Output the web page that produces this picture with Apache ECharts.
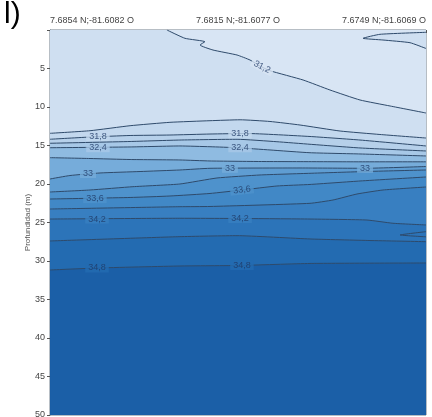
<!DOCTYPE html>
<html>
<head>
<meta charset="utf-8">
<script src="https://cdn.jsdelivr.net/npm/echarts@6/dist/echarts.min.js"></script>
<style>
  html, body { margin: 0; padding: 0; background: #fff; }
  #chart { width: 432px; height: 417px; }
</style>
</head>
<body>
<div id="chart"></div>
<script>
// estaciones (eje superior) y niveles de salinidad
const stations = ["7.6854 N;-81.6082 O", "7.6815 N;-81.6077 O", "7.6749 N;-81.6069 O"];
const levels = [31.2, 31.5, 31.8, 32.1, 32.4, 32.7, 33.0, 33.3, 33.6, 33.9, 34.2, 34.5, 34.8];
const depthTicks = [0, 5, 10, 15, 20, 25, 30, 35, 40, 45, 50];

// isolineas: [posicion entre estaciones (0-2), profundidad (m)]
const c312 = [[0.622, 0], [0.718, 1.08], [0.824, 1.52], [0.798, 1.95], [0.867, 2.6], [0.995, 3.25], [1.064, 3.9], [1.117, 4.68], [1.17, 5.29], [1.346, 6.49], [1.489, 7.79], [1.649, 9.09], [1.809, 9.87], [2, 10.78]];
const c312b = [[2, 0.3], [1.755, 0.56], [1.665, 1.08], [1.771, 1.3], [1.915, 1.65], [2, 2.4]];
const c315 = [[0, 13.42], [0.213, 13.08], [0.426, 12.43], [0.638, 11.99], [0.851, 11.78], [1.011, 11.66], [1.17, 11.88], [1.33, 12.34], [1.543, 13.12], [1.755, 13.57], [2, 14.03]];
const c318 = [[0, 14.19], [0.213, 13.9], [0.426, 13.7], [0.638, 13.64], [0.851, 13.51], [1.048, 13.44], [1.383, 13.83], [1.649, 14.29], [2, 15.06]];
const c321 = [[0, 14.71], [0.426, 14.48], [0.691, 14.29], [0.995, 14.19], [1.207, 14.51], [1.383, 14.84], [1.649, 15.32], [2, 15.71]];
const c324 = [[0, 15.29], [0.426, 15.19], [0.691, 15.06], [0.851, 15.16], [0.995, 15.29], [1.17, 15.58], [1.383, 15.94], [1.649, 16.1], [2, 16.36]];
const c327 = [[0, 16.58], [0.213, 16.69], [0.426, 16.82], [0.691, 16.88], [0.851, 17.01], [1.117, 17.08], [1.383, 17.1], [1.649, 17.12], [2, 17.12]];
const c330 = [[0, 19.35], [0.106, 18.9], [0.266, 18.57], [0.479, 18.38], [0.691, 18.18], [0.851, 17.96], [1.33, 17.92], [1.676, 17.96], [2, 17.73]];
const c333 = [[0, 21.04], [0.213, 20.78], [0.441, 20.35], [0.691, 20.0], [0.888, 19.22], [1.117, 18.83], [1.383, 18.61], [1.676, 18.38], [2, 18.18]];
const c336 = [[0, 21.95], [0.426, 21.75], [0.638, 21.56], [0.851, 21.23], [1.021, 20.78], [1.207, 20.26], [1.383, 20.06], [1.649, 19.61], [2, 19.09]];
const c339 = [[0, 23.25], [0.691, 22.95], [0.851, 22.92], [1.383, 22.51], [1.505, 22.08], [1.633, 21.3], [1.771, 20.78], [2, 20.39]];
const c342 = [[0, 24.55], [0.691, 24.45], [1.011, 24.48], [1.383, 24.55], [1.686, 24.68], [1.824, 25.1], [2, 25.32]];
const c345 = [[0, 27.4], [0.691, 26.84], [0.995, 26.71], [1.383, 27.14], [1.702, 27.34], [2, 27.49]];
const c345b = [[2, 26.19], [1.862, 26.62], [2, 26.86]];
const c348 = [[0, 31.17], [0.25, 30.91], [0.691, 30.65], [1.011, 30.58], [1.383, 30.32], [2, 30.26]];

// etiquetas de las isolineas: [x, profundidad, texto, giro]
const contourLabels = [
  [1.128, 4.81, "31,2", -27],
  [0.255, 13.83, "31,8", 0], [1.011, 13.48, "31,8", 0],
  [0.255, 15.29, "32,4", 0], [1.011, 15.3, "32,4", 0],
  [0.202, 18.64, "33", 0], [0.957, 17.96, "33", 0], [1.676, 17.96, "33", 0],
  [0.239, 21.91, "33,6", 0], [1.021, 20.78, "33,6", 6],
  [0.25, 24.55, "34,2", 0], [1.011, 24.48, "34,2", 0],
  [0.25, 30.91, "34,8", 0], [1.021, 30.58, "34,8", 0]
];

// colores de las bandas, de la mas salina a la menos
const deepColor = "#1b5fa7";
const bandColors = {
  "34.8": "#236bb1", "34.5": "#2c74b9", "34.2": "#387fc1", "33.9": "#4188c6",
  "33.6": "#4e92cc", "33.3": "#5f9dd2", "33.0": "#76acda", "32.7": "#8fbbe1",
  "32.4": "#a7c8e7", "32.1": "#b6d0ea", "31.8": "#c3d8ee", "31.5": "#cfdff1",
  "31.2": "#d8e5f4"
};
const lineColor = "#2e4a6b";

const mainLines = [c348, c345, c342, c339, c336, c333, c330, c327, c324, c321, c318, c315];
const mainLevels = [34.8, 34.5, 34.2, 33.9, 33.6, 33.3, 33.0, 32.7, 32.4, 32.1, 31.8, 31.5];

// poligonos (pintados de abajo hacia arriba)
const polys = [];
polys.push({ pts: [[0, 0], [2, 0], [2, 50], [0, 50]], color: deepColor });
mainLines.forEach((ln, i) => {
  polys.push({ pts: ln.concat([[2, 0], [0, 0]]), color: bandColors[mainLevels[i].toFixed(1)] });
});
polys.push({ pts: c312.concat([[2, 0]]), color: bandColors["31.2"] });
polys.push({ pts: c312b, color: bandColors["31.5"] });

const allLines = [c312, c312b, c315, c318, c321, c324, c327, c330, c333, c336, c339, c342, c345, c345b, c348];

function bgFor(d) {
  // color de fondo para la etiqueta segun la profundidad
  if (d < 10) return bandColors["31.2"];
  if (d < 14) return bandColors["31.8"];
  if (d < 16) return bandColors["32.4"];
  if (d < 19.5) return bandColors["33.0"];
  if (d < 23) return bandColors["33.6"];
  if (d < 26) return bandColors["34.2"];
  return bandColors["34.8"];
}

const myChart = echarts.init(document.getElementById("chart"));

const option = {
  animation: false,
  grid: {
    left: 50, right: 6, top: 30, bottom: 2, outerBoundsMode: "none", containLabel: false,
    show: true, borderColor: "#6f7c8a", borderWidth: 1, backgroundColor: "transparent"
  },
  graphic: [{
    type: "text", left: 4, top: 0,
    style: { text: "l)", fontSize: 30, fontFamily: "Liberation Sans", fill: "#000" }
  }],
  xAxis: {
    type: "value", position: "top", min: 0, max: 2, interval: 1,
    axisLine: { show: true, lineStyle: { color: "#6f7c8a" } },
    axisTick: { show: true, inside: true, length: 3, lineStyle: { color: "#555" } },
    splitLine: { show: false },
    axisLabel: {
      formatter: v => stations[Math.round(v)],
      fontSize: 9, color: "#444", fontFamily: "Liberation Sans", margin: 5,
      alignMinLabel: "left", alignMaxLabel: "right"
    }
  },
  yAxis: {
    type: "value", inverse: true, min: 0, max: 50, interval: 5,
    name: "Profundidad (m)", nameLocation: "middle", nameGap: 18, nameMoveOverlap: false,
    nameTextStyle: { fontSize: 8, color: "#555", fontFamily: "Liberation Sans" },
    axisLine: { show: true, lineStyle: { color: "#6f7c8a" } },
    axisTick: { show: true, length: 3, lineStyle: { color: "#555" } },
    splitLine: { show: false },
    axisLabel: {
      formatter: v => (depthTicks.indexOf(v) > 0 ? String(v) : ""),
      fontSize: 9, color: "#444", fontFamily: "Liberation Sans", margin: 5
    }
  },
  series: [
    {
      type: "custom",
      coordinateSystem: "cartesian2d",
      clip: true,
      silent: true,
      data: polys.map((p, i) => [0, 0, i]),
      renderItem: function (params, api) {
        const p = polys[params.dataIndex];
        return {
          type: "polygon",
          z2: params.dataIndex,
          shape: { points: p.pts.map(q => api.coord(q)) },
          style: { fill: p.color, stroke: p.color, lineWidth: 0.5 }
        };
      },
      z: 1
    }
  ].concat(allLines.map(ln => ({
    type: "line",
    data: ln,
    showSymbol: false,
    silent: true,
    smooth: 0.15,
    clip: true,
    lineStyle: { color: lineColor, width: 1 },
    z: 2
  }))).concat([{
    type: "scatter",
    symbolSize: 0,
    silent: true,
    z: 3,
    data: contourLabels.map(l => ({
      value: [l[0], l[1]],
      label: {
        show: true, position: "inside", formatter: l[2], rotate: l[3],
        fontSize: 9, color: "#1f3a66", fontFamily: "Liberation Sans",
        backgroundColor: bgFor(l[1]), padding: [0, 3]
      }
    }))
  }])
};

myChart.setOption(option);
</script>
</body>
</html>
